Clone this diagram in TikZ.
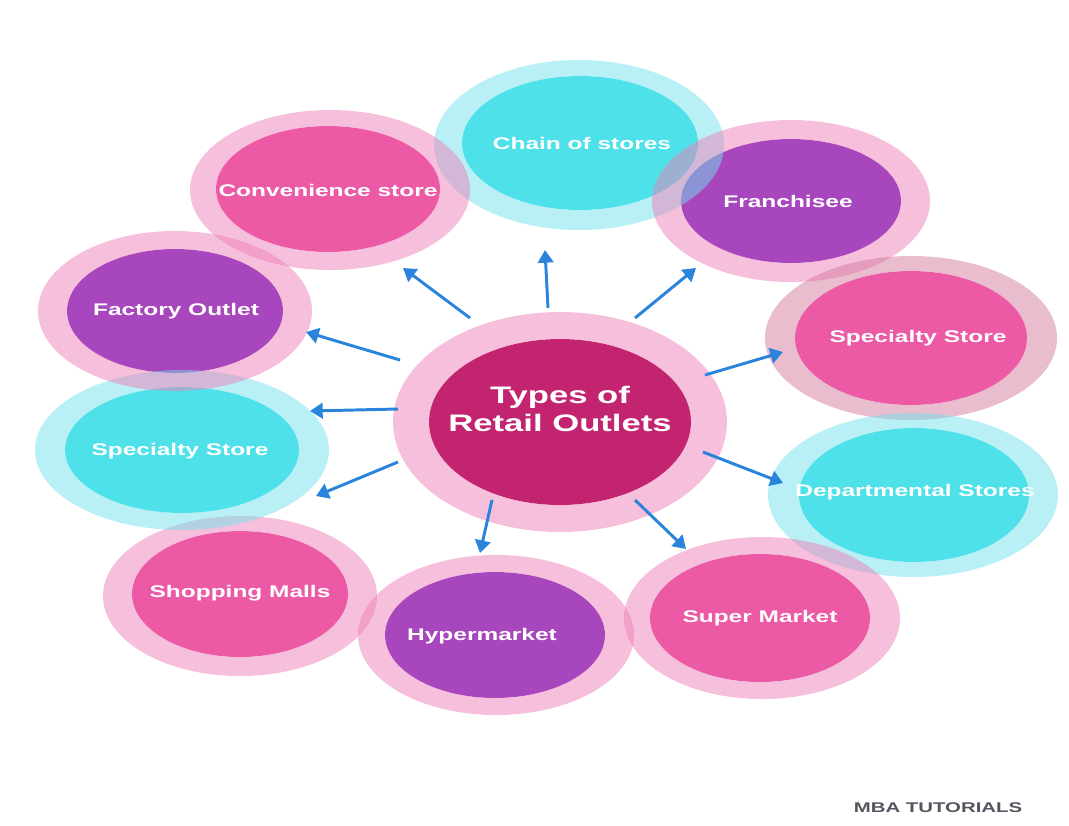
\documentclass[tikz,border=0pt]{standalone}
\usepackage{fontspec}
\setmainfont{Liberation Sans}
\usepackage{graphicx}
\usetikzlibrary{arrows.meta}
\definecolor{pinkin}{HTML}{EC5AA6}
\definecolor{purplein}{HTML}{A846BE}
\definecolor{cyanin}{HTML}{4EE1EA}
\definecolor{centerin}{HTML}{C2246F}
\definecolor{ringpink}{HTML}{EE80B8}
\definecolor{ringcyan}{HTML}{72E2EC}
\definecolor{ringmauve}{HTML}{D47A9E}
\definecolor{arrblue}{HTML}{2A84DC}
\definecolor{markgray}{HTML}{555560}
\newcommand\wide[1]{\scalebox{1.45}[1]{#1}}
\tikzset{
  lbl/.style={text=white, font=\bfseries\fontsize{12}{14}\selectfont, inner sep=0pt},
  ctr/.style={text=white, font=\bfseries\fontsize{17}{20}\selectfont, inner sep=0pt, align=center},
  ring/.style={fill=#1, fill opacity=0.5, even odd rule},
  arr/.style={draw=arrblue, line width=2.1pt, -{Triangle[length=9pt,width=11pt]}},
}
\begin{document}
\begin{tikzpicture}[x=0.025cm,y=-0.025cm]
\useasboundingbox (0,0) rectangle (1069,825);
% inner fills
\fill[centerin]  (560,422) ellipse [x radius=131, y radius=83];
\fill[cyanin]    (580,143) ellipse [x radius=118, y radius=67];
\fill[pinkin]    (328,189) ellipse [x radius=112, y radius=63];
\fill[purplein]  (791,201) ellipse [x radius=110, y radius=62];
\fill[pinkin]    (911,338) ellipse [x radius=116, y radius=67];
\fill[cyanin]    (914,495) ellipse [x radius=115, y radius=67];
\fill[pinkin]    (760,618) ellipse [x radius=110, y radius=64];
\fill[purplein]  (495,635) ellipse [x radius=110, y radius=63];
\fill[pinkin]    (240,594) ellipse [x radius=108, y radius=63];
\fill[cyanin]    (182,450) ellipse [x radius=117, y radius=63];
\fill[purplein]  (175,311) ellipse [x radius=108, y radius=62];
% rings
\fill[ring=ringpink]  (560,422) ellipse [x radius=167, y radius=110] (560,422) ellipse [x radius=131, y radius=83];
\fill[ring=ringcyan]  (579,145) ellipse [x radius=145, y radius=85] (580,143) ellipse [x radius=118, y radius=67];
\fill[ring=ringpink]  (330,190) ellipse [x radius=140, y radius=80] (328,189) ellipse [x radius=112, y radius=63];
\fill[ring=ringpink]  (791,201) ellipse [x radius=139, y radius=81] (791,201) ellipse [x radius=110, y radius=62];
\fill[ring=ringmauve] (911,338) ellipse [x radius=146, y radius=82] (911,338) ellipse [x radius=116, y radius=67];
\fill[ring=ringcyan]  (913,495) ellipse [x radius=145, y radius=82] (914,495) ellipse [x radius=115, y radius=67];
\fill[ring=ringpink]  (762,618) ellipse [x radius=138, y radius=81] (760,618) ellipse [x radius=110, y radius=64];
\fill[ring=ringpink]  (496,635) ellipse [x radius=138, y radius=80] (495,635) ellipse [x radius=110, y radius=63];
\fill[ring=ringpink]  (240,596) ellipse [x radius=137, y radius=80] (240,594) ellipse [x radius=108, y radius=63];
\fill[ring=ringcyan]  (182,450) ellipse [x radius=147, y radius=80] (182,450) ellipse [x radius=117, y radius=63];
\fill[ring=ringpink]  (175,311) ellipse [x radius=137, y radius=80] (175,311) ellipse [x radius=108, y radius=62];
% labels
\node[ctr] (hub) at (560,409) {\wide{Types of}\\\wide{Retail Outlets}};
\node[lbl] (chain) at (582,143) {\wide{Chain of stores}};
\node[lbl] (conv) at (328,190) {\wide{Convenience store}};
\node[lbl] (fran) at (788,201) {\wide{Franchisee}};
\node[lbl] (specr) at (918,338) {\wide{Specialty Store}};
\node[lbl] (dept) at (915,492) {\wide{Departmental Stores}};
\node[lbl] (super) at (760,618) {\wide{Super Market}};
\node[lbl] (hyper) at (482,636) {\wide{Hypermarket}};
\node[lbl] (mall) at (240,593) {\wide{Shopping Malls}};
\node[lbl] (specl) at (180,451) {\wide{Specialty Store}};
\node[lbl] (fact) at (176,311) {\wide{Factory Outlet}};
\node[text=markgray, font=\bfseries\fontsize{10}{12}\selectfont, inner sep=0pt] (mark) at (938,808) {\wide{MBA TUTORIALS}};
% arrow end points
\coordinate (s1) at (470,318); \coordinate (e1) at (403,268);
\coordinate (s2) at (548,308); \coordinate (e2) at (545,250);
\coordinate (s3) at (635,318); \coordinate (e3) at (696,268);
\coordinate (s4) at (705,375); \coordinate (e4) at (783,352);
\coordinate (s5) at (703,452); \coordinate (e5) at (783,483);
\coordinate (s6) at (635,500); \coordinate (e6) at (686,549);
\coordinate (s7) at (492,500); \coordinate (e7) at (480,553);
\coordinate (s8) at (398,462); \coordinate (e8) at (316,496);
\coordinate (s9) at (398,409); \coordinate (e9) at (310,411);
\coordinate (s10) at (400,360); \coordinate (e10) at (306,332);
\foreach \i in {1,...,10} { \draw[arr] (s\i) -- (e\i); }
\end{tikzpicture}
\end{document}
